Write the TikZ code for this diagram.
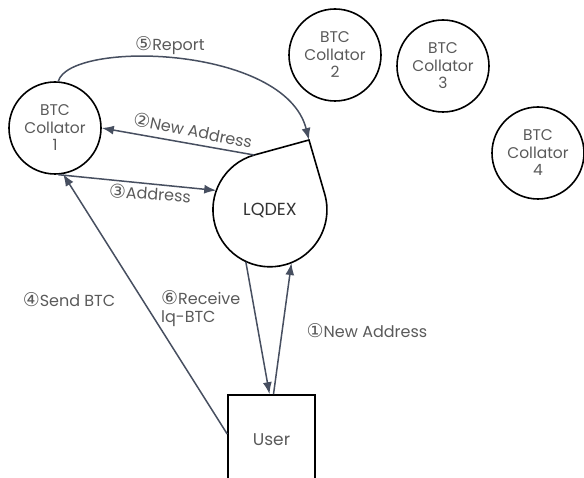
\documentclass[tikz,border=0pt]{standalone}
\usepackage{fontspec}
\setmainfont{Poppins}
\newfontfamily\circfont{DejaVu Sans}
\usetikzlibrary{arrows.meta,calc}
\definecolor{txtgray}{HTML}{5A5A5A}
\definecolor{conn}{HTML}{474F60}
\newcommand{\cnum}[1]{{\circfont\fontsize{19}{19}\selectfont #1}}
\tikzset{
  collator/.style={circle,draw=black,line width=1.6pt,minimum size=92pt,inner sep=0pt,
    align=center,text=txtgray,font=\fontsize{15.5}{17.5}\selectfont},
  flow/.style={draw=conn,line width=1.5pt,-{Latex[length=12pt,width=9pt]}},
  lbl/.style={text=txtgray,font=\fontsize{16}{18}\selectfont,inner sep=0pt},
}
\begin{document}
\begin{tikzpicture}[x=1pt,y=-1pt]
\useasboundingbox (0,0) rectangle (584,478);
\clip (0,0) rectangle (584,478);
% collators
\node[collator] (c1) at (55,128) {BTC\\Collator\\1};
\node[collator] (c2) at (335,55) {BTC\\Collator\\2};
\node[collator] (c3) at (443,66) {BTC\\Collator\\3};
\node[collator] (c4) at (538,153) {BTC\\Collator\\4};
% LQDEX teardrop
\node[circle,minimum size=114pt,inner sep=0pt,text=black!80,font=\fontsize{17.5}{18}\selectfont] (lq) at (270,210) {LQDEX};
\coordinate (tip) at (309,140);
\draw[line width=1.6pt,line join=miter] (tip) -- (lq.106) arc[start angle=254,end angle=-16.7,radius=57] -- cycle;
% user
\node[draw=black,line width=1.6pt,minimum width=87pt,minimum height=90pt,inner sep=0pt,
  text=txtgray,font=\fontsize{17}{18}\selectfont] (user) at (271.5,440) {User};
% connectors
\draw[flow] (c1.86) .. controls (70,40) and (285,45) .. (tip);
\draw[flow] (lq.106) -- (c1.east);
\draw[flow] (c1.-86) -- (lq.160);
\draw[flow] ([yshift=6pt]user.west) -- (c1.-80);
\draw[flow] (lq.-115) -- ([xshift=-2pt]user.north);
\draw[flow] ([xshift=2pt]user.north) -- (lq.-68);
% labels
\node[lbl] (l5) at (170,46) {\cnum{⑤}Report};
\node[lbl,rotate=-11] (l2) at (193,130) {\cnum{②}New Address};
\node[lbl,rotate=-4] (l3) at (150,193) {\cnum{③}Address};
\node[lbl] (l4) at (69,300) {\cnum{④}Send BTC};
\node[lbl,anchor=north west,align=left] (l6) at (161,290) {\cnum{⑥}Receive\\lq-BTC};
\node[lbl] (l1) at (367,331) {\cnum{①}New Address};
\end{tikzpicture}
\end{document}
